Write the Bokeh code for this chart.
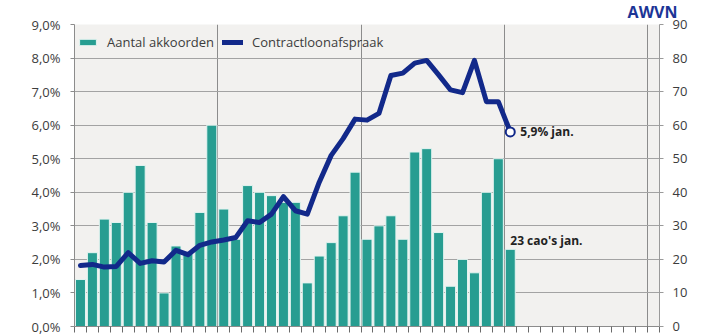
from bokeh.plotting import figure
from bokeh.models import (Range1d, LinearAxis, FixedTicker, Legend, LegendItem,
                          Label, Title, ColumnDataSource)
from bokeh.embed import file_html
from bokeh.resources import INLINE

# ---------------- data ----------------
n_categories = 49
agreements = [14, 22, 32, 31, 40, 48, 31, 10, 24, 22, 34, 60, 35,
              26, 42, 40, 39, 37, 37, 13, 21, 25, 33, 46, 26, 30,
              33, 26, 52, 53, 28, 12, 20, 16, 40, 50, 23]
wage_pct = [1.82, 1.85, 1.77, 1.79, 2.20, 1.88, 1.96, 1.92, 2.27, 2.14, 2.42, 2.52, 2.58,
            2.65, 3.15, 3.10, 3.35, 3.87, 3.45, 3.35, 4.30, 5.10, 5.60, 6.18, 6.15, 6.35,
            7.48, 7.55, 7.85, 7.93, 7.50, 7.05, 6.97, 7.93, 6.70, 6.70, 5.80]
left_ticks = [0, 1, 2, 3, 4, 5, 6, 7, 8, 9]
left_tick_labels = ["0,0%", "1,0%", "2,0%", "3,0%", "4,0%", "5,0%", "6,0%", "7,0%", "8,0%", "9,0%"]
right_ticks = [0, 10, 20, 30, 40, 50, 60, 70, 80, 90]
year_boundaries = [12, 24, 36, 48]
series_names = ["Aantal akkoorden", "Contractloonafspraak"]
line_label = "5,9% jan."
bar_label = "23 cao's jan."
logo_text = "AWVN"

# ---------------- styling ----------------
TEAL = "#279d91"
NAVY = "#12298a"
TEXT = "#3c3c3c"
FONT = "Open Sans"

xs = [i + 0.5 for i in range(len(agreements))]
src = ColumnDataSource(dict(x=xs, n=agreements, w=wage_pct))

p = figure(width=702, height=336, output_backend="svg", toolbar_location=None,
           title=None,
           x_range=Range1d(0, n_categories), y_range=Range1d(0, 9),
           min_border_left=74, min_border_right=43, min_border_top=24, min_border_bottom=10,
           background_fill_color="#f2f1ef", border_fill_color="white",
           outline_line_color=None)
p.extra_y_ranges = {"right": Range1d(0, 90)}

# logo in the top panel
p.add_layout(Title(text=logo_text, align="right", vertical_align="top", offset=-18,
                   standoff=0, text_font=FONT, text_font_style="bold",
                   text_font_size="16px", text_color="#1c3596"), "above")

# grids
p.ygrid.ticker = FixedTicker(ticks=left_ticks)
p.ygrid.grid_line_color = "#a3a3a3"
p.ygrid.grid_line_width = 1
p.xgrid.ticker = FixedTicker(ticks=year_boundaries)
p.xgrid.grid_line_color = "#8c8c8c"
p.xgrid.grid_line_width = 1

# x axis
p.xaxis.ticker = FixedTicker(ticks=list(range(n_categories + 1)))
p.xaxis.major_label_overrides = {i: "" for i in range(n_categories + 1)}
p.xaxis.major_tick_out = 6
p.xaxis.major_tick_in = 0
p.xaxis.minor_tick_line_color = None
p.xaxis.axis_line_color = "#8c8c8c"
p.xaxis.major_tick_line_color = "#6a6a6a"
p.xaxis.major_label_standoff = 0

# left axis
p.yaxis.ticker = FixedTicker(ticks=left_ticks)
p.yaxis.major_label_overrides = dict(zip(left_ticks, left_tick_labels))
p.yaxis.major_tick_out = 4
p.yaxis.major_tick_in = 0
p.yaxis.minor_tick_line_color = None
p.yaxis.axis_line_color = "#8c8c8c"
p.yaxis.major_tick_line_color = "#8c8c8c"
p.yaxis.major_label_text_font = FONT
p.yaxis.major_label_text_font_size = "13px"
p.yaxis.major_label_text_color = TEXT
p.yaxis.major_label_standoff = 10

# right axis
ra = LinearAxis(y_range_name="right", ticker=FixedTicker(ticks=right_ticks))
ra.major_tick_out = 4
ra.major_tick_in = 0
ra.minor_tick_line_color = None
ra.axis_line_color = "#9a9a9a"
ra.major_tick_line_color = "#9a9a9a"
ra.major_label_text_font = FONT
ra.major_label_text_font_size = "13px"
ra.major_label_text_color = TEXT
ra.major_label_standoff = 9
p.add_layout(ra, "right")

# bars and line
bars = p.vbar(x="x", top="n", width=0.84, y_range_name="right", source=src,
              fill_color=TEAL, line_color="#e4f4f1", line_width=1)
line = p.line(x="x", y="w", source=src, line_color=NAVY, line_width=5,
              line_join="round", line_cap="round")
p.scatter(x=[xs[-1]], y=[wage_pct[-1]], size=9, fill_color="white",
          line_color=NAVY, line_width=2)

# legend (location = bottom-left corner of the legend box, relative to frame)
legend = Legend(items=[LegendItem(label=series_names[0], renderers=[bars]),
                       LegendItem(label=series_names[1], renderers=[line])],
                orientation="horizontal", location=(0, 272),
                margin=0, padding=3, spacing=8, glyph_width=21, glyph_height=8,
                label_standoff=9, label_height=16,
                label_text_font=FONT, label_text_font_size="13px",
                label_text_color=TEXT, background_fill_alpha=0, border_line_alpha=0)
p.add_layout(legend)

# annotations
p.add_layout(Label(x=xs[-1], y=wage_pct[-1], text=line_label, x_offset=10,
                   text_baseline="middle", text_align="left", text_font=FONT,
                   text_font_style="bold", text_font_size="12px", text_color="#222222"))
p.add_layout(Label(x=xs[-1], y=agreements[-1], y_range_name="right", text=bar_label,
                   x_offset=0, y_offset=9, text_baseline="middle", text_align="left",
                   text_font=FONT, text_font_style="bold", text_font_size="12px",
                   text_color="#222222"))

open("out.html", "w").write(file_html(p, INLINE))
